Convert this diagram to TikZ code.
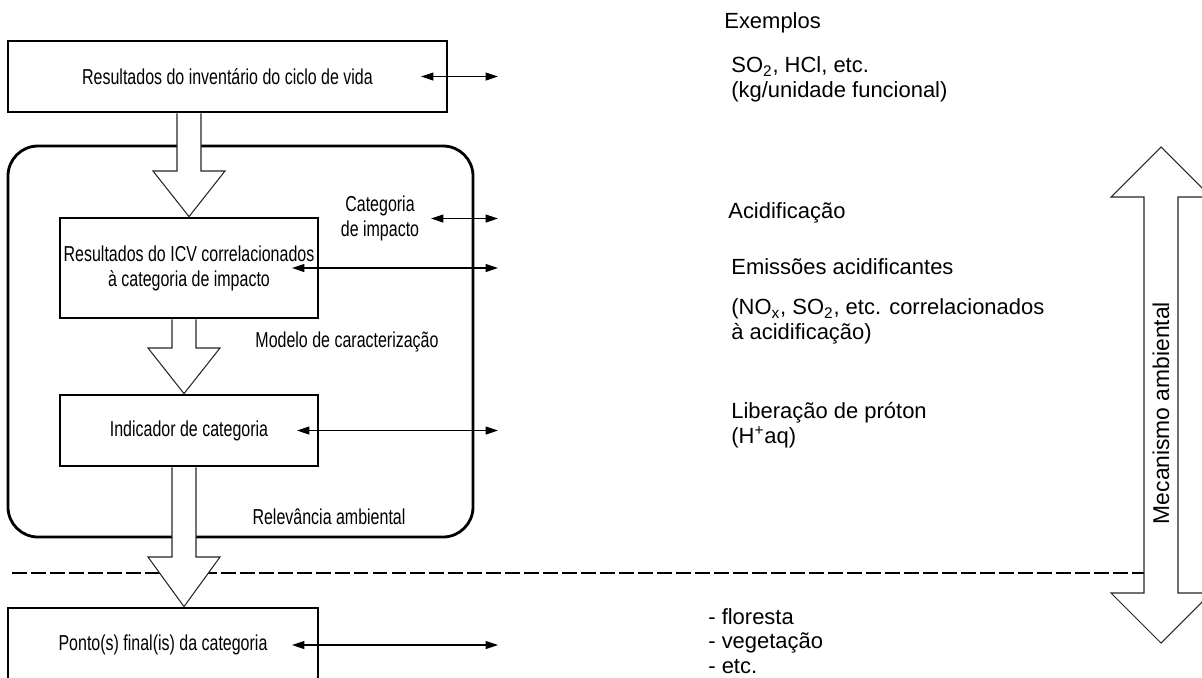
\documentclass[tikz,border=0pt]{standalone}
\usepackage{fontspec}
\setmainfont{Liberation Sans}
\newfontfamily\narrowsans[FakeStretch=0.74]{Liberation Sans}
\usepackage{tikz}
\usetikzlibrary{calc}
\usetikzlibrary{arrows.meta}
\usetikzlibrary{backgrounds}

\begin{document}
\begin{tikzpicture}[x=0.02cm, y=-0.02cm,
		box/.style={draw, line width=1.6pt, inner sep=0pt, align=center, font=\narrowsans\fontsize{12.3}{14.2}\selectfont},
		lbl/.style={inner sep=0pt, align=center, font=\narrowsans\fontsize{12.3}{14.2}\selectfont},
		txt/.style={inner sep=0pt, align=left, anchor=west, font=\fontsize{12.5}{14}\selectfont},
		link/.style={line width=0.6pt, {Triangle[length=7pt,width=4.5pt]}-{Triangle[length=7pt,width=4.5pt]}},
		hollow/.style={draw=black!85, line width=0.6pt, fill=white}]
				\useasboundingbox (0,0) rectangle (1202,677);
				\clip (0,0) rectangle (1202,677);
				
				% boxes
				\node[box, minimum width=8.78cm, minimum height=1.42cm] (res) at (227.5,76.5) {Resultados do invent\'ario do ciclo de vida};
				\node[box, minimum width=5.16cm, minimum height=2cm] (icv) at (189,268) {Resultados do ICV correlacionados\\\`a categoria de impacto};
				\node[box, minimum width=5.16cm, minimum height=1.42cm] (ind) at (189,430.5) {Indicador de categoria};
				\node[box, minimum width=6.2cm, minimum height=1.48cm] (pto) at (163,645) {Ponto(s) final(is) da categoria};
				
				% labels
				\node[lbl] (cat) at (380,218.5) {Categoria\\de impacto};
				\node[lbl] (modelo) at (347,342) {Modelo de caracteriza\c{c}\~ao};
				\node[lbl] (relev) at (329,517) {Relev\^ancia ambiental};
				\node[txt] (exemplos) at (724,23) {Exemplos};
				\node[txt] (so2) at (731,79.5) {SO\textsubscript{2}, HCl, etc.\\(kg/unidade funcional)};
				\node[txt] (acid) at (728,213) {Acidifica\c{c}\~ao};
				\node[txt] (emis) at (731,267) {Emiss\~oes acidificantes};
				\node[txt] (nox) at (731,321.5) {(NO\textsubscript{x}, SO\textsubscript{2}, etc. correlacionados\\\`a acidifica\c{c}\~ao)};
				\node[txt] (liber) at (731,425) {Libera\c{c}\~ao de pr\'oton\\(H\textsuperscript{+}aq)};
				\node[txt] (flor) at (708,641) {- floresta\\- vegeta\c{c}\~ao\\- etc.};
				\node[txt, anchor=center, rotate=90, font=\fontsize{13}{15}\selectfont] (mec) at (1161,413) {Mecanismo ambiental};
				
				% double arrows
				\draw[link] (421,0 |- res) -- (498,0 |- res);
				\draw[link] (431,0 |- cat) -- (498,0 |- cat);
				\draw[link] (292,0 |- icv) -- (498,0 |- icv);
				\draw[link] (297,0 |- ind) -- (498,0 |- ind);
				\draw[link] (292,0 |- pto) -- (498,0 |- pto);
				
				\begin{pgfonlayer}{background}
				\draw[line width=1.6pt, rounded corners=0.6cm] (8,146) rectangle (473,537);
				\draw[line width=0.6pt, dash pattern=on 8.5pt off 2.3pt] (12,573) -- (1144,573);
				% hollow arrows
				\draw[hollow] (177,0 |- res.south) -- (177,171) -- (153,171) -- (189,0 |- icv.north) -- (225,171) -- (201,171) -- (201,0 |- res.south);
				\draw[hollow] (172,0 |- icv.south) -- (172,348) -- (148,348) -- (184,0 |- ind.north) -- (220,348) -- (196,348) -- (196,0 |- icv.south);
				\draw[hollow] (172,0 |- ind.south) -- (172,557) -- (148,557) -- (184,0 |- pto.north) -- (220,557) -- (196,557) -- (196,0 |- ind.south);
				\draw[hollow] (1161,147) -- (1211,197) -- (1178,197) -- (1178,593) -- (1211,593) -- (1161,643) -- (1111,593) -- (1144,593) -- (1144,197) -- (1111,197) -- cycle;
				\end{pgfonlayer}
			\end{tikzpicture}
\end{document}
